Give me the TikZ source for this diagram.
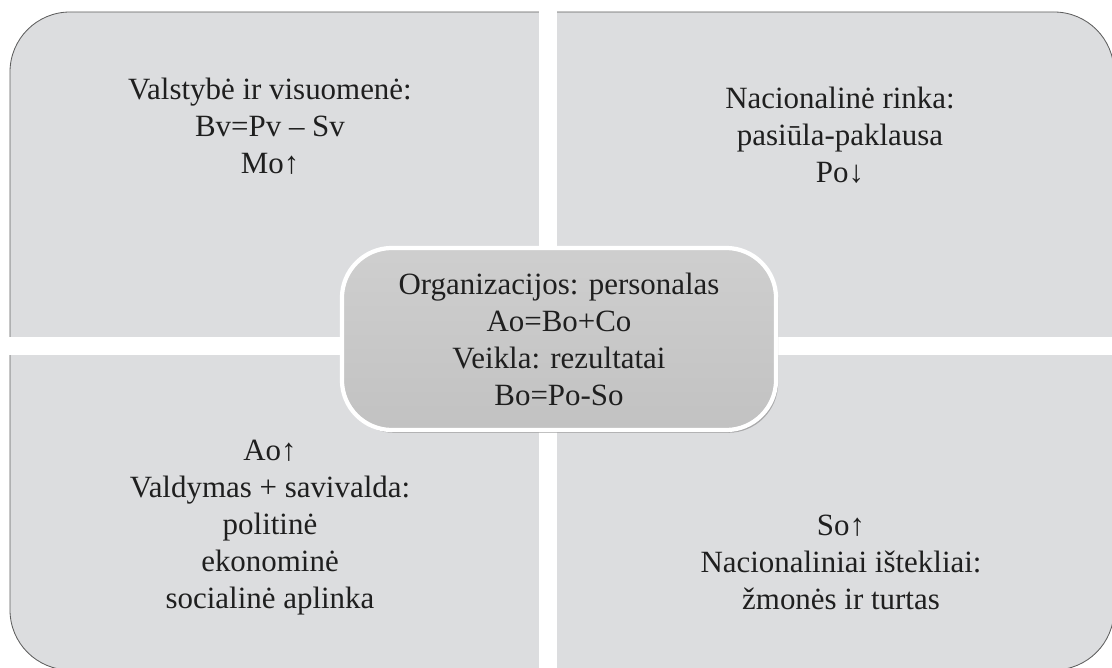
\documentclass[tikz,border=0pt]{standalone}
\usepackage{fontspec}
\setmainfont{Liberation Serif}
\usetikzlibrary{shadows}
\definecolor{quadgray}{HTML}{DCDDDF}
\definecolor{framegray}{HTML}{5E5E5E}
\begin{document}
\begin{tikzpicture}[x=0.025cm,y=-0.025cm,
  txt/.style={align=center,font=\fontsize{22}{26.3}\selectfont,text=black!88}]
\useasboundingbox (0,0) rectangle (1112,668);
% frame and the white cross
\draw[fill=quadgray,draw=framegray,line width=0.6pt,rounded corners=1.5cm] (10,12) rectangle (1114,670);
\fill[white] (539,0) rectangle (557,668);
\fill[white] (0,337) rectangle (1112,355);
% quadrants
\node[txt] (valst) at (270,126) {Valstybė ir visuomenė:\\Bv=Pv – Sv\\Mo↑};
\node[txt] (rinka) at (840,135) {Nacionalinė rinka:\\pasiūla-paklausa\\Po↓};
\node[txt] (valdym) at (270,528) {Ao↑\\Valdymas + savivalda:\\politinė\\ekonominė\\socialinė aplinka};
\node[txt] (istekl) at (841,562) {So↑\\Nacionaliniai ištekliai:\\žmonės ir turtas};
% centre
\node[txt,draw=white,line width=3pt,rounded corners=1.25cm,
  top color=gray!38,bottom color=gray!48,
  drop shadow={shadow xshift=1.5pt,shadow yshift=-2pt,opacity=0.55},
  minimum width=10.85cm,minimum height=4.55cm] (org) at (559,339)
  {Organizacijos: personalas\\Ao=Bo+Co\\Veikla: rezultatai\\Bo=Po-So};
\end{tikzpicture}
\end{document}
